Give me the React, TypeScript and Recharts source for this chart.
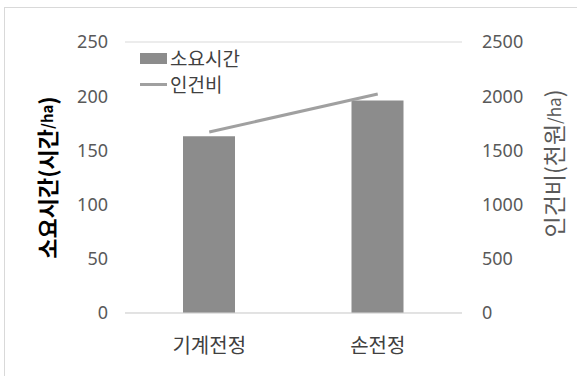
import React from 'react';
import { ComposedChart, Bar, Line, XAxis, YAxis, CartesianGrid, Legend, Label } from 'recharts';

const categories = ['기계전정', '손전정'];
const hoursPerHa = [163, 196];
const laborCost = [1670, 2020];
const hoursTicks = [0, 50, 100, 150, 200, 250];
const costTicks = [0, 500, 1000, 1500, 2000, 2500];

const data = categories.map((name, i) => ({
  name,
  hours: hoursPerHa[i],
  cost: laborCost[i],
}));

const KR = '"Noto Sans CJK KR", "Noto Sans", sans-serif';
const NUM = '"Noto Sans", sans-serif';

const renderLegend = (props: any) => {
  const { payload } = props;
  return (
    <div style={{ fontFamily: KR, fontSize: 19, color: '#404040' }}>
      {payload.map((item: any) => (
        <div key={item.value} style={{ display: 'flex', alignItems: 'center', height: 26, lineHeight: '20px' }}>
          {item.type === 'line' ? (
            <span style={{ display: 'inline-block', width: 27, height: 3, background: item.color, marginRight: 3 }} />
          ) : (
            <span style={{ display: 'inline-block', width: 27, height: 11, background: item.color, marginRight: 3 }} />
          )}
          <span style={{ lineHeight: '20px' }}>{item.value}</span>
        </div>
      ))}
    </div>
  );
};

const leftTitle = (props: any) => {
  const vb = props.viewBox;
  const x = vb.x + 46;
  const y = vb.y + vb.height / 2;
  return (
    <text x={x} y={y} transform={`rotate(-90 ${x} ${y})`} textAnchor="middle" dominantBaseline="central"
      fontFamily={KR} fontSize={22} fontWeight="bold" fill="#000">
      소요시간(시간<tspan fontSize={15}>/ha</tspan>)
    </text>
  );
};

const rightTitle = (props: any) => {
  const vb = props.viewBox;
  const x = vb.x + 91;
  const y = vb.y + vb.height / 2 - 14;
  return (
    <text x={x} y={y} transform={`rotate(-90 ${x} ${y})`} textAnchor="middle" dominantBaseline="central"
      fontFamily={KR} fontSize={23} fill="#595959">
      인건비(천원<tspan fontSize={17}>/ha</tspan>)
    </text>
  );
};

export default function App() {
  return (
    <div style={{ position: 'absolute', left: 0, top: 0, width: 577, height: 376, background: '#fff', overflow: 'hidden' }}>
      <div style={{ position: 'absolute', left: 4, top: 7, width: 600, height: 400, borderTop: '1px solid #d9d9d9', borderLeft: '1px solid #d9d9d9' }} />
      <div style={{ position: 'absolute', left: 0, top: 0 }}>
        <ComposedChart width={577} height={376} data={data} margin={{ top: 42, right: 0, bottom: 0, left: 0 }}>
          <CartesianGrid vertical={false} stroke="#d9d9d9" strokeWidth={1} />
          <XAxis dataKey="name" height={63} tickLine={false} axisLine={{ stroke: '#d9d9d9' }}
            tickMargin={20} tick={{ fill: '#404040', fontSize: 20, fontFamily: KR }} />
          <YAxis yAxisId="left" width={125} domain={[0, 250]} ticks={hoursTicks} tickLine={false} axisLine={false}
            tickMargin={11} tick={{ fill: '#595959', fontSize: 18, fontFamily: NUM }}
            label={<Label content={leftTitle} />} />
          <YAxis yAxisId="right" orientation="right" width={115} domain={[0, 2500]} ticks={costTicks} tickLine={false}
            axisLine={false} tickMargin={14} tick={{ fill: '#595959', fontSize: 18, fontFamily: NUM, textAnchor: 'start' }}
            label={<Label content={rightTitle} />} />
          <Legend content={renderLegend} layout="vertical" align="center" verticalAlign="middle"
            wrapperStyle={{ left: 140, top: 45, width: 'auto' }} />
          <Bar yAxisId="left" dataKey="hours" name="소요시간" fill="#8c8c8c" barSize={52} legendType="rect" isAnimationActive={false} />
          <Line yAxisId="right" dataKey="cost" name="인건비" stroke="#a0a0a0" strokeWidth={3} dot={false}
            type="linear" legendType="line" isAnimationActive={false} />
        </ComposedChart>
      </div>
    </div>
  );
}
